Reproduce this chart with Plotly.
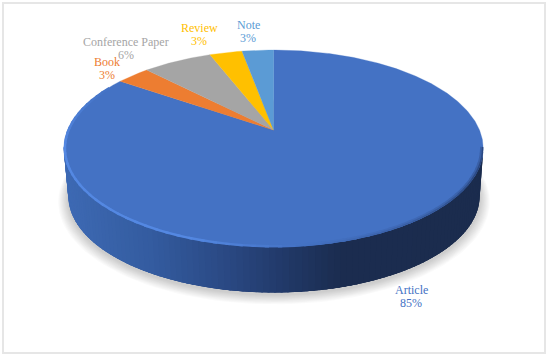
import numpy as np
import plotly.graph_objects as go

categories = ["Article", "Book", "Conference Paper", "Review", "Note"]
shares = [84.6, 3.1, 6.4, 3.0, 2.9]
slice_colors = ["#4472C4", "#ED7D31", "#A5A5A5", "#FFC000", "#5B9BD5"]
label_colors = ["#4472C4", "#ED7D31", "#A5A5A5", "#FFC000", "#5B9BD5"]
# label anchor (centre x, centre y) in the pixel-sized axes
label_xy = [(411, 296.5), (107, 68.5), (126, 48.5), (199, 34.5), (248, 31.5)]

W, H = 550, 357
K = 0.188


def project(theta_deg, cx=273.5, cy=130.0, a=206.0, b=95.0):
    t = np.radians(np.asarray(theta_deg, dtype=float))
    u, v = np.sin(t), np.cos(t)
    w = 1 + K * v
    return cx + a * u / w, cy - b * v / w


def lower(theta_deg, grow=0.0, dy=0.0):
    return project(theta_deg, cx=274.0, cy=178.0 + dy, a=202.0 + grow, b=93.0 + grow * 0.6)


def mix(c1, c2, f):
    return "rgb(%d,%d,%d)" % tuple(round(c1[i] + (c2[i] - c1[i]) * f) for i in range(3))


fig = go.Figure()


def poly(x, y, fill, line=None, lw=0.0):
    fig.add_trace(go.Scatter(
        x=list(x), y=list(y), mode="lines", fill="toself", fillcolor=fill,
        line=dict(color=line or fill, width=lw), hoverinfo="skip", showlegend=False))


def seg(x, y, color, lw):
    fig.add_trace(go.Scatter(
        x=list(x), y=list(y), mode="lines", line=dict(color=color, width=lw),
        hoverinfo="skip", showlegend=False))


# soft shadow under the disc
full = np.linspace(0, 360, 181)
for i in range(10, 0, -1):
    x, y = lower(full, grow=i * 1.0, dy=2.0 + i * 0.25)
    poly(x, y, "rgba(0,0,0,0.018)")

# extruded wall, shaded by horizontal position; strips overlap to hide seams
sx = [64, 150, 230, 290, 340, 484]
sr = [62, 52, 42, 33, 27, 27]
sg = [106, 92, 72, 56, 45, 44]
sb = [180, 160, 130, 102, 80, 78]
edges = np.arange(100.0, 261.0, 1.5)
for t0 in edges[:-1]:
    t1 = min(t0 + 5.0, 260.0)
    tx0, ty0 = project([t0, t0 + (t1 - t0) / 2, t1])
    bx, by = lower([t1, t0 + (t1 - t0) / 2, t0])
    mid = float(project(t0 + 0.75)[0])
    c = "rgb(%d,%d,%d)" % (np.interp(mid, sx, sr), np.interp(mid, sx, sg), np.interp(mid, sx, sb))
    poly(list(tx0) + list(bx), list(ty0) + list(by), c)

# top face: slices clockwise from twelve o'clock
total = sum(shares)
start = 0.0
cx0, cy0 = 273.5, 130.0
for name, val, col in zip(categories, shares, slice_colors):
    end = start + val / total * 360.0
    t = np.linspace(start, end, max(int(end - start) * 2, 4))
    x, y = project(t)
    poly([cx0] + list(x) + [cx0], [cy0] + list(y) + [cy0], col, col, 0.3)
    start = end

# rim: bright bevel on the left/front, dark soft edge on the right
face = (68, 114, 196)
hi = (84, 136, 226)
dark = (38, 62, 112)
rim = np.arange(100.0, 300.0, 3.0)
for t0, t1 in zip(rim[:-1], rim[1:]):
    m = (t0 + t1) / 2
    if m < 175:
        f = np.clip((175 - m) / 60.0, 0, 1)
        seg(*project([t0, t1 + 1], a=204.4, b=94.0), mix(face, dark, f * 0.35), 3.0)
        seg(*project([t0, t1 + 1], a=205.4, b=94.6), mix(face, dark, f * 0.8), 1.4)
    else:
        f = np.clip((m - 175) / 25.0, 0, 1) * np.clip((300 - m) / 40.0, 0, 1)
        seg(*project([t0, t1 + 1], a=204.9, b=94.4), mix(face, hi, f), 2.4)

fig.update_layout(
    width=W, height=H, margin=dict(l=0, r=0, t=0, b=0),
    paper_bgcolor="white", plot_bgcolor="white", showlegend=False,
    xaxis=dict(range=[0, W], visible=False, fixedrange=True),
    yaxis=dict(range=[H, 0], visible=False, fixedrange=True),
    shapes=[dict(type="rect", x0=3, y0=3, x1=545, y1=353,
                 line=dict(color="#E6E6E6", width=2), fillcolor="rgba(0,0,0,0)")],
)

for name, val, col, (lx, ly) in zip(categories, shares, label_colors, label_xy):
    for text, yy in ((name, ly - 6.5), ("%d%%" % round(val), ly + 6.5)):
        fig.add_annotation(
            x=lx, y=yy, xref="x", yref="y", showarrow=False, align="center", text=text,
            font=dict(family="Liberation Serif", size=12, color=col))

fig.write_html("out.html", config={"displayModeBar": False},
               post_script="document.body.style.margin='0';document.body.style.overflow='hidden';")
